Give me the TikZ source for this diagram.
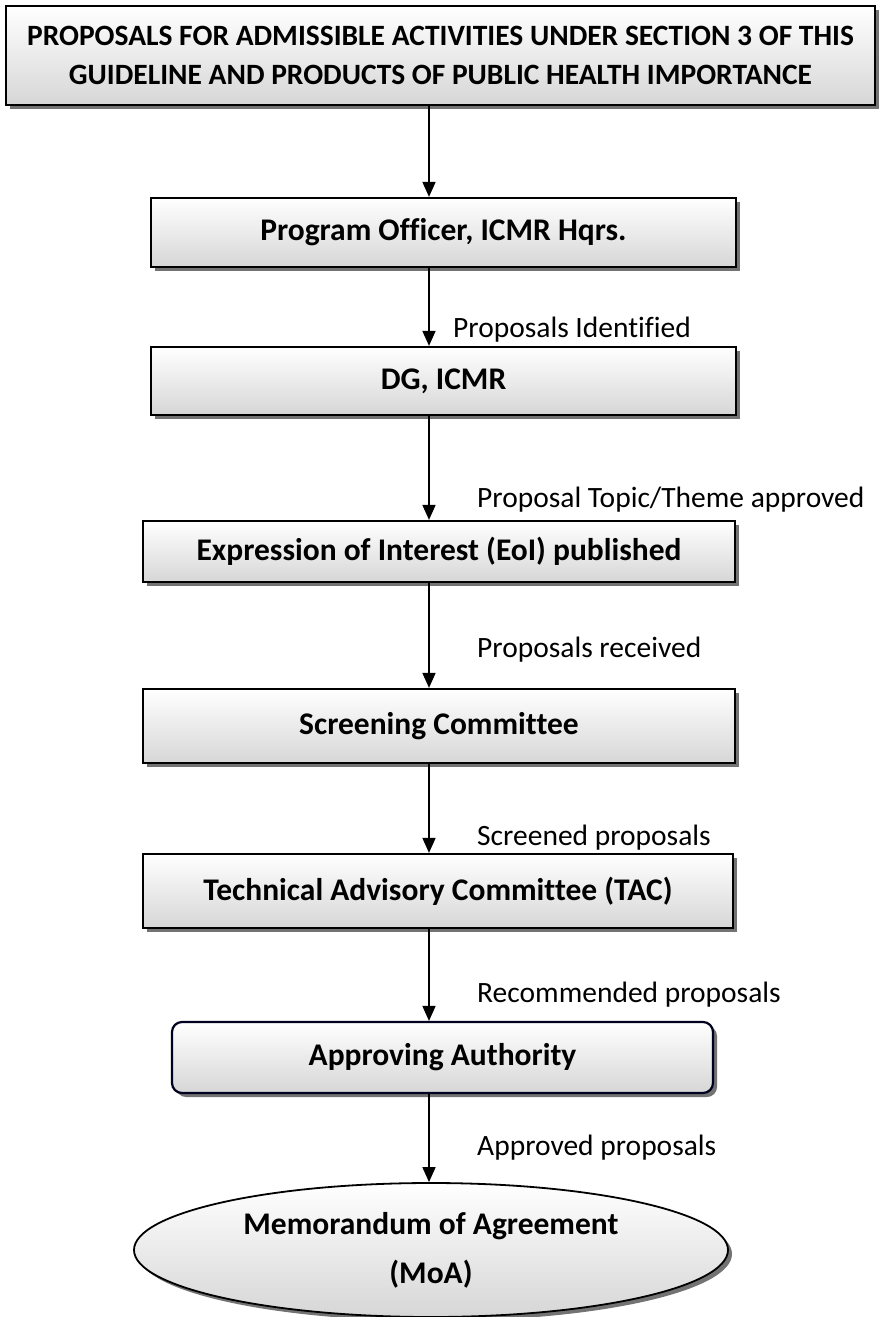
\documentclass[tikz,border=0pt]{standalone}
\usepackage{fontspec}
\setmainfont{Carlito}[Ligatures=NoCommon]
\usetikzlibrary{arrows.meta,shadows,shapes.geometric}
\begin{document}
\begin{tikzpicture}[x=1pt,y=-1pt,
  font=\fontsize{29.5}{39}\selectfont,
  boxbase/.style={draw=black,line width=2.2pt,top color=white,bottom color=black!16,
    drop shadow={shadow xshift=4pt,shadow yshift=-4pt,fill=black!55,opacity=1},
    inner sep=0pt,font=\fontsize{31.5}{49}\selectfont\bfseries,align=center},
  stepbox/.style={boxbase,rectangle},
  roundbox/.style={boxbase,rectangle,rounded corners=10pt,draw=black!80!blue!60!black},
  ovalbox/.style={boxbase,ellipse,line width=1.8pt},
  arr/.style={line width=1.6pt,-{Triangle[length=15pt,width=13pt]}},
  lbl/.style={anchor=west,inner sep=0pt,font=\fontsize{29.5}{39}\selectfont}]
\useasboundingbox (0,0) rectangle (881,1317);
\fill[white] (0,0) rectangle (881,1317);
\coordinate (ax) at (429,0);
\node[stepbox,minimum width=869pt,minimum height=99pt,font=\fontsize{29.5}{39}\selectfont\bfseries] (top) at (440.5,55.5)
  {PROPOSALS FOR ADMISSIBLE ACTIVITIES UNDER SECTION 3 OF THIS\\GUIDELINE AND PRODUCTS OF PUBLIC HEALTH IMPORTANCE};
\node[stepbox,minimum width=585pt,minimum height=69pt] (po) at (443.5,232.5) {Program Officer, ICMR Hqrs.};
\node[stepbox,minimum width=585pt,minimum height=68pt] (dg) at (443.5,381) {DG, ICMR};
\node[stepbox,minimum width=592pt,minimum height=61pt] (eoi) at (439,551.5) {Expression of Interest (EoI) published};
\node[stepbox,minimum width=592pt,minimum height=74pt] (sc) at (439,726) {Screening Committee};
\node[stepbox,minimum width=590pt,minimum height=74pt] (tac) at (438,891) {Technical Advisory Committee (TAC)};
\node[roundbox,minimum width=541pt,minimum height=71pt] (aa) at (442.5,1057.5) {Approving Authority};
\node[ovalbox,minimum width=594pt,minimum height=134pt] (moa) at (431,1250) {Memorandum of Agreement\\(MoA)};
\draw[arr] (top.south -| ax) -- (po.north -| ax);
\draw[arr] (po.south -| ax) -- (dg.north -| ax);
\draw[arr] (dg.south -| ax) -- (eoi.north -| ax);
\draw[arr] (eoi.south -| ax) -- (sc.north -| ax);
\draw[arr] (sc.south -| ax) -- (tac.north -| ax);
\draw[arr] (tac.south -| ax) -- (aa.north -| ax);
\draw[arr] (aa.south -| ax) -- (moa.north -| ax);
\node[lbl] (l1) at (453,330) {Proposals Identified};
\node[lbl] (l2) at (477,500) {Proposal Topic/Theme approved};
\node[lbl] (l3) at (477,650) {Proposals received};
\node[lbl] (l4) at (477,838) {Screened proposals};
\node[lbl] (l5) at (477,995) {Recommended proposals};
\node[lbl] (l6) at (477,1148) {Approved proposals};
\end{tikzpicture}
\end{document}
